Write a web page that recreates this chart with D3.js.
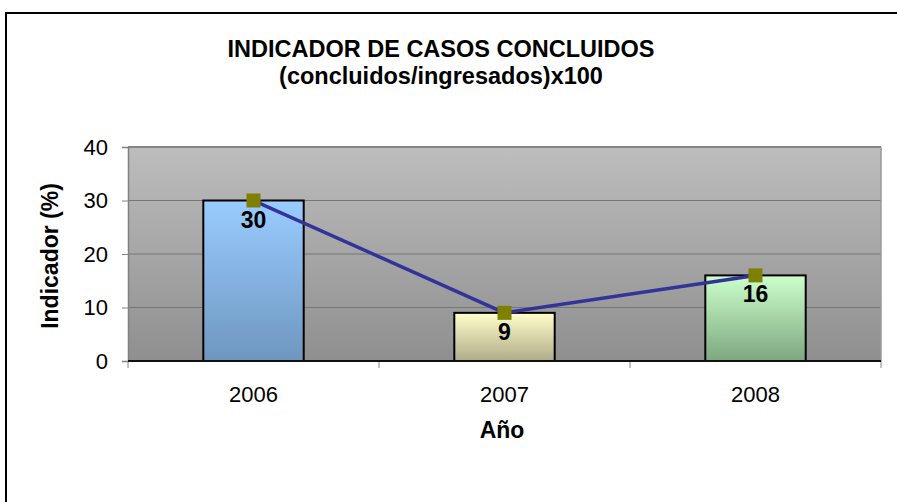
<!DOCTYPE html>
<html>
<head>
<meta charset="utf-8">
<script src="https://cdn.jsdelivr.net/npm/d3@7/dist/d3.min.js"></script>
<style>
  html, body { margin: 0; padding: 0; background: #fff; overflow: hidden; }
  svg { display: block; font-family: "Liberation Sans", Arial, sans-serif; }
</style>
</head>
<body>
<svg id="chart" width="897" height="502"></svg>
<script>
const titleLines = ["INDICADOR DE CASOS CONCLUIDOS", "(concluidos/ingresados)x100"];
const categories = ["2006", "2007", "2008"];
const values = [30, 9, 16];
const yTicks = [0, 10, 20, 30, 40];
const xTitle = "Año";
const yTitle = "Indicador (%)";
const barTop = ["#99ccff", "#ffffcc", "#ccffcc"];
const barBottom = ["#6e96bf", "#b0ab88", "#7ea77f"];

const svg = d3.select("#chart");
const defs = svg.append("defs");

const plot = { left: 128, right: 881, top: 147, bottom: 361 };

const x = d3.scaleBand().domain(categories).range([plot.left, plot.right]).padding(0);
const y = d3.scaleLinear().domain([0, 40]).range([plot.bottom, plot.top]);

// outer frame (only left and top edges visible in the crop)
svg.append("path").attr("d", "M6,510 L6,13 L905,13")
  .attr("fill", "none").attr("stroke", "#000").attr("stroke-width", 2);

// plot background gradient
const bg = defs.append("linearGradient").attr("id", "bg").attr("x1", 0).attr("y1", 0).attr("x2", 0).attr("y2", 1);
bg.append("stop").attr("offset", "0%").attr("stop-color", "#bdbdbd");
bg.append("stop").attr("offset", "100%").attr("stop-color", "#8f8f8f");
svg.append("rect").attr("x", plot.left).attr("y", plot.top)
  .attr("width", plot.right - plot.left).attr("height", plot.bottom - plot.top)
  .attr("fill", "url(#bg)");

// gridlines
svg.append("g").selectAll("line").data(yTicks.filter(d => d > 0 && d < 40)).join("line")
  .attr("x1", plot.left).attr("x2", plot.right)
  .attr("y1", d => y(d)).attr("y2", d => y(d))
  .attr("stroke", "#767676").attr("stroke-width", 1);

// plot border top and right
svg.append("line").attr("x1", plot.left).attr("x2", plot.right).attr("y1", y(40)).attr("y2", y(40))
  .attr("stroke", "#858585").attr("stroke-width", 2);
svg.append("line").attr("x1", plot.right).attr("x2", plot.right).attr("y1", plot.top).attr("y2", plot.bottom)
  .attr("stroke", "#9a9a9a").attr("stroke-width", 1.5);

// bar gradients
categories.forEach((c, i) => {
  const g = defs.append("linearGradient").attr("id", "bar" + i).attr("x1", 0).attr("y1", 0).attr("x2", 0).attr("y2", 1);
  g.append("stop").attr("offset", "0%").attr("stop-color", barTop[i]);
  g.append("stop").attr("offset", "100%").attr("stop-color", barBottom[i]);
});

const barW = x.bandwidth() * 0.4;
svg.append("g").selectAll("rect").data(values).join("rect")
  .attr("x", (d, i) => x(categories[i]) + x.bandwidth() / 2 - barW / 2)
  .attr("y", d => y(d))
  .attr("width", barW)
  .attr("height", d => y(0) - y(d))
  .attr("fill", (d, i) => `url(#bar${i})`)
  .attr("stroke", "#000").attr("stroke-width", 2);

// y axis
const yAxis = svg.append("g").attr("transform", `translate(${plot.left},0)`)
  .call(d3.axisLeft(y).tickValues(yTicks).tickSize(6).tickPadding(14).tickFormat(d3.format("d")));
yAxis.select(".domain").attr("stroke", "#808080").attr("stroke-width", 1.5);
yAxis.selectAll(".tick line").attr("stroke", "#808080");
yAxis.selectAll("text").attr("font-size", 22).attr("fill", "#000").attr("font-family", "Liberation Sans, Arial, sans-serif");

// x axis labels
const xAxis = svg.append("g").attr("transform", `translate(0,${plot.bottom})`)
  .call(d3.axisBottom(x).tickSize(0).tickPadding(25));
xAxis.select(".domain").remove();
xAxis.selectAll("text").attr("font-size", 22).attr("fill", "#000").attr("font-family", "Liberation Sans, Arial, sans-serif");

// x boundary ticks
const bounds = categories.map(c => x(c)).concat([x(categories[categories.length - 1]) + x.step()]);
svg.append("g").selectAll("line").data(bounds).join("line")
  .attr("x1", d => d).attr("x2", d => d)
  .attr("y1", plot.bottom).attr("y2", plot.bottom + 7)
  .attr("stroke", "#8a8a8a").attr("stroke-width", 1);
svg.append("line").attr("x1", plot.left).attr("x2", plot.right)
  .attr("y1", plot.bottom).attr("y2", plot.bottom)
  .attr("stroke", "#111").attr("stroke-width", 2);

// line series
const cx = (d, i) => x(categories[i]) + x.bandwidth() / 2;
svg.append("path").datum(values)
  .attr("d", d3.line().x(cx).y(d => y(d)))
  .attr("fill", "none").attr("stroke", "#333399").attr("stroke-width", 3.5);

// markers
const ms = 14;
svg.append("g").selectAll("rect").data(values).join("rect")
  .attr("x", (d, i) => cx(d, i) - ms / 2).attr("y", d => y(d) - ms / 2)
  .attr("width", ms).attr("height", ms)
  .attr("fill", "#808000");

// data labels
svg.append("g").selectAll("text").data(values).join("text")
  .attr("x", cx).attr("y", d => y(d) + 27)
  .attr("text-anchor", "middle").attr("font-size", 23).attr("font-weight", "bold").attr("fill", "#000")
  .text(d => d);

// title
svg.append("g").selectAll("text").data(titleLines).join("text")
  .attr("x", 441).attr("y", (d, i) => 57 + i * 27)
  .attr("text-anchor", "middle").attr("font-size", 23.5).attr("font-weight", "bold").attr("fill", "#000")
  .text(d => d);

// axis titles
svg.append("text").attr("x", 502).attr("y", 438)
  .attr("text-anchor", "middle").attr("font-size", 23).attr("font-weight", "bold")
  .text(xTitle);
svg.append("text").attr("transform", "translate(58,256) rotate(-90)")
  .attr("text-anchor", "middle").attr("font-size", 23).attr("font-weight", "bold")
  .text(yTitle);
</script>
</body>
</html>
